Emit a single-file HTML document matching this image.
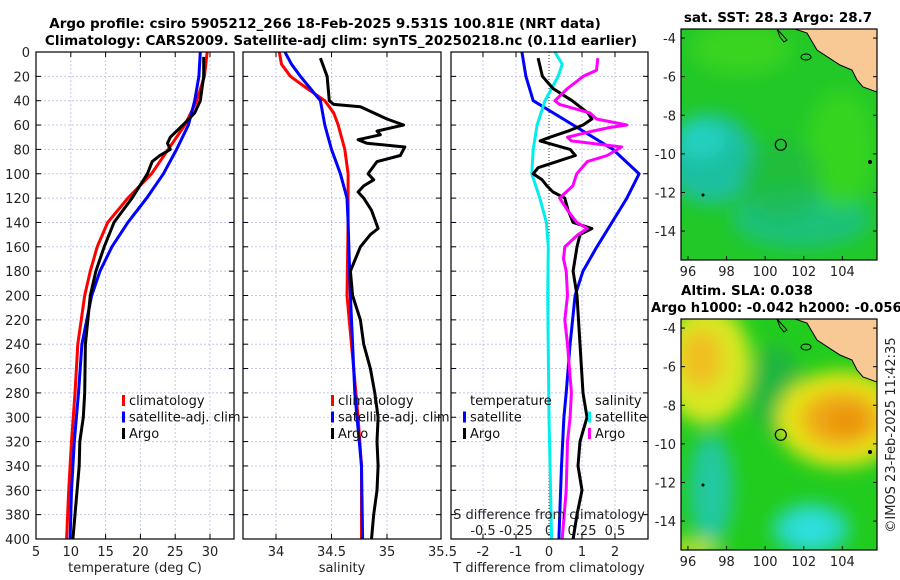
<!DOCTYPE html>
<html><head><meta charset="utf-8"><style>
body{margin:0;background:#fff;}
svg{display:block;font-family:"DejaVu Sans","Liberation Sans",sans-serif;}
</style></head><body>
<svg id="fig" width="900" height="580" viewBox="0 0 900 580" xmlns="http://www.w3.org/2000/svg">
<defs>
<filter id="blur6" x="-50%" y="-50%" width="200%" height="200%"><feGaussianBlur stdDeviation="9"/></filter>
<clipPath id="clipm1"><rect x="681" y="29" width="196" height="231"/></clipPath>
<clipPath id="clipm2"><rect x="681" y="319" width="196" height="231"/></clipPath>
<clipPath id="clipp1"><rect x="36" y="52" width="198" height="487"/></clipPath>
<clipPath id="clipp2"><rect x="243" y="52" width="198" height="487"/></clipPath>
<clipPath id="clipp3"><rect x="451" y="52" width="197" height="487"/></clipPath>
</defs>
<g id="root"></g>
</svg>
<script>
// ---- data ----
const tempDepth = [0,20,40,60,80,100,120,140,160,180,200,240,280,320,360,400];
const tempClim  = [29.6,29.2,28.1,26.4,24.0,21.6,18.2,15.3,13.8,12.8,12.0,11.0,10.6,10.1,9.7,9.4];
const tempSat   = [28.6,28.4,27.8,26.9,25.2,23.3,20.9,18.2,15.9,14.2,13.0,11.6,11.1,10.5,10.1,9.9];
const argoTDepth= [4,20,40,50,60,70,75,80,85,90,100,110,120,140,160,180,200,240,280,300,320,340,360,380,400];
const argoTemp  = [29.1,29.1,28.6,27.8,26.1,24.3,23.9,24.3,22.8,21.7,21.0,19.9,18.8,16.2,14.8,13.6,12.8,12.1,12.0,11.8,11.3,11.2,10.9,10.6,10.3];
const salDepth  = [0,10,20,30,40,50,60,80,100,120,140,200,280,300,340,400];
const salClim   = [34.03,34.05,34.13,34.28,34.44,34.52,34.56,34.62,34.65,34.65,34.65,34.64,34.72,34.74,34.77,34.77];
const salSat    = [34.08,34.14,34.22,34.31,34.40,34.42,34.44,34.50,34.58,34.64,34.65,34.67,34.71,34.73,34.77,34.78];
const argoSDepth= [5,20,40,43,45,50,55,60,65,68,72,75,78,85,90,100,105,110,115,120,130,140,145,150,160,180,200,220,240,260,280,300,320,340,360,380,400];
const argoSal   = [34.40,34.46,34.48,34.52,34.76,34.88,35.00,35.15,34.91,34.94,34.74,34.82,35.16,35.12,34.91,34.83,34.88,34.79,34.74,34.79,34.86,34.90,34.92,34.85,34.76,34.67,34.69,34.76,34.79,34.85,34.89,34.92,34.91,34.92,34.91,34.88,34.86];
const dDepth    = [0,20,40,60,80,100,120,140,160,180,200,240,280,300,340,400];
const dTsat     = [-0.82,-0.70,-0.48,0.73,1.94,2.73,2.36,1.91,1.45,1.03,0.79,0.64,0.52,0.45,0.38,0.30];
const dSsatDepth= [0,10,20,30,40,60,80,100,120,140,160,200,300,400];
const dSsat     = [0.045,0.10,0.07,0.02,-0.03,-0.09,-0.12,-0.13,-0.07,-0.02,-0.005,-0.01,0.0,0.02];
const dTargoDepth=[5,20,30,40,50,55,60,65,70,73,77,80,85,90,95,100,105,110,115,120,130,140,145,150,160,180,200,240,280,300,320,340,360,380,400];
const dTargo    = [-0.33,-0.20,0.12,0.70,1.18,1.30,1.03,0.58,0.03,-0.27,0.24,0.64,0.80,0.24,-0.33,-0.48,-0.21,-0.06,0.12,0.48,0.58,0.73,1.30,0.94,0.85,0.73,0.85,0.94,1.03,1.15,0.94,0.88,1.00,0.85,0.73];
const dSargoDepth=[5,15,20,30,40,43,50,55,60,62,65,70,73,78,85,90,100,110,120,130,140,145,150,160,170,180,200,220,240,280,300,320,360,400];
const dSargo    = [0.37,0.36,0.26,0.14,0.045,0.08,0.31,0.36,0.59,0.46,0.33,0.14,0.17,0.55,0.44,0.29,0.21,0.18,0.08,0.14,0.21,0.29,0.22,0.12,0.11,0.13,0.14,0.12,0.14,0.17,0.16,0.14,0.13,0.10];
const depthTicks = [0,20,40,60,80,100,120,140,160,180,200,220,240,260,280,300,320,340,360,380,400];
const tempTicks = [5,10,15,20,25,30];
const salTicks = [34,34.5,35,35.5];
const dTTicks = [-2,-1,0,1,2];
const dSTicks = [-0.5,-0.25,0,0.25,0.5];
const latTicks = [-4,-6,-8,-10,-12,-14];
const lonTicks = [96,98,100,102,104];

// ---- axes functions ----
const Y0=52, Y1=539;
const yD = d => Y0 + d*(Y1-Y0)/400;
const xT = t => 36 + (t-5)*6.96;
const xS = s => 276 + (s-34)*111;
const xDT = v => 549 + v*33;
const xDS = v => 549 + v*132;
const mx = lon => 681 + (lon-95.64)*19.3;
const my = (lat,top) => top + (-3.53-lat)*19.3;

const NS="http://www.w3.org/2000/svg";
const root=document.getElementById('root');
function el(tag, attrs, parent, txt){
  const e=document.createElementNS(NS,tag);
  for(const k in attrs) e.setAttribute(k,attrs[k]);
  if(txt!==undefined) e.textContent=txt;
  (parent||root).appendChild(e); return e;
}
function line(xs, depths, fx, color, name, clip){
  const p=xs.map((v,i)=>(i?'L':'M')+fx(v).toFixed(1)+','+yD(depths[i]).toFixed(1)).join(' ');
  const e=el('path',{d:p,fill:'none',stroke:color,'stroke-width':3,'stroke-linejoin':'round','clip-path':'url(#'+clip+')'});
  
  
}

const panels=[
 {x:36,w:198,clip:'clipp1',name:'temperature-panel',gx:tempTicks.map(xT)},
 {x:243,w:198,clip:'clipp2',name:'salinity-panel',gx:salTicks.map(xS)},
 {x:451,w:197,clip:'clipp3',name:'difference-panel',gx:dTTicks.filter(v=>v!==0).map(xDT)}
];
panels.forEach(P=>{
  const g=el('g',{});
  
  
  el('rect',{x:P.x,y:Y0,width:P.w,height:Y1-Y0,fill:'#fff'},g);
  depthTicks.forEach(d=>{
    el('line',{x1:P.x,x2:P.x+P.w,y1:yD(d),y2:yD(d),stroke:'#c4c8e8','stroke-width':1,'stroke-dasharray':'2,2'},g);
    el('line',{x1:P.x,x2:P.x+5,y1:yD(d),y2:yD(d),stroke:'#000'},g);
    el('line',{x1:P.x+P.w-5,x2:P.x+P.w,y1:yD(d),y2:yD(d),stroke:'#000'},g);
  });
  P.gx.forEach(x=>{
    if(x>P.x+1 && x<P.x+P.w-1){
      el('line',{x1:x,x2:x,y1:Y0,y2:Y1,stroke:'#c4c8e8','stroke-width':1,'stroke-dasharray':'2,2'},g);
      el('line',{x1:x,x2:x,y1:Y1-5,y2:Y1,stroke:'#000'},g);
      el('line',{x1:x,x2:x,y1:Y0,y2:Y0+5,stroke:'#000'},g);
    }
  });
});
el('line',{x1:xDT(0),x2:xDT(0),y1:Y0,y2:Y1,stroke:'#333','stroke-width':1,'stroke-dasharray':'1,2'});

depthTicks.forEach(d=>{
  const t=el('text',{x:30,y:yD(d)+5,'text-anchor':'end','font-size':13,fill:'#222'},root,String(d));
  
  
});
tempTicks.forEach(v=>{
  const t=el('text',{x:xT(v),y:556,'text-anchor':'middle','font-size':13,fill:'#222'},root,String(v));
  
  
});
salTicks.forEach(v=>{
  const t=el('text',{x:xS(v),y:556,'text-anchor':'middle','font-size':13,fill:'#222'},root,String(v));
  
  
});
dTTicks.forEach(v=>{
  const t=el('text',{x:xDT(v),y:556,'text-anchor':'middle','font-size':13,fill:'#222'},root,String(v));
  
  
});
dSTicks.forEach(v=>{
  const t=el('text',{x:xDS(v),y:535,'text-anchor':'middle','font-size':13,fill:'#222'},root,String(v));
  
  
});

line(tempClim,tempDepth,xT,'#ff0000','temperature-climatology-line','clipp1');
line(tempSat,tempDepth,xT,'#0000ff','temperature-satellite-line','clipp1');
line(argoTemp,argoTDepth,xT,'#000000','temperature-argo-line','clipp1');
line(salClim,salDepth,xS,'#ff0000','salinity-climatology-line','clipp2');
line(salSat,salDepth,xS,'#0000ff','salinity-satellite-line','clipp2');
line(argoSal,argoSDepth,xS,'#000000','salinity-argo-line','clipp2');
line(dTsat,dDepth,xDT,'#0000ff','t-diff-satellite-line','clipp3');
line(dSsat,dSsatDepth,xDS,'#00eeee','s-diff-satellite-line','clipp3');
line(dTargo,dTargoDepth,xDT,'#000000','t-diff-argo-line','clipp3');
line(dSargo,dSargoDepth,xDS,'#ff00ff','s-diff-argo-line','clipp3');

panels.forEach(P=>{ el('rect',{x:P.x,y:Y0,width:P.w,height:Y1-Y0,fill:'none',stroke:'#000','stroke-width':1.2}); });

function map(top, id, blobs){
  const g=el('g',{'clip-path':'url(#'+id+')'});
  
  
  el('rect',{x:681,y:top,width:196,height:231,fill:blobs.base},g);
  const bg=el('g',{filter:'url(#blur6)'},g);
  blobs.items.forEach(b=>el('ellipse',{cx:681+b[0],cy:top+b[1],rx:b[2],ry:b[3],fill:b[4],opacity:b[5]||1},bg));
  const land=[[114,0],[126,4],[136,21],[159,36],[171,41],[176,51],[182,58],[196,63],[196,0]];
  const lp=el('polygon',{points:land.map(p=>(681+p[0])+','+(top+p[1])).join(' '),fill:'#f9c995',stroke:'#000','stroke-width':1},g);
  
  
  el('path',{d:`M${681+96},${top} l3,8 l4,5 l3,-2 z`,fill:'none',stroke:'#000'},g);
  el('ellipse',{cx:681+125,cy:top+28,rx:5,ry:3,fill:'none',stroke:'#000'},g);
  el('circle',{cx:681+189,cy:top+133,r:2,fill:'#000'},g);
  el('circle',{cx:681+22,cy:top+166,r:1.5,fill:'#000'},g);
  const c=el('circle',{cx:mx(100.81),cy:my(-9.53,top),r:5.5,fill:'none',stroke:'#000','stroke-width':1.2},g);
  
  
  el('rect',{x:681,y:top,width:196,height:231,fill:'none',stroke:'#000','stroke-width':1.2});
  latTicks.forEach(l=>{
    const y=my(l,top);
    el('line',{x1:681,x2:685,y1:y,y2:y,stroke:'#000'});
    el('line',{x1:873,x2:877,y1:y,y2:y,stroke:'#000'});
    const t=el('text',{x:676,y:y+5,'text-anchor':'end','font-size':13,fill:'#222'},root,String(l));
    
    
  });
  lonTicks.forEach(l=>{
    const x=mx(l);
    el('line',{x1:x,x2:x,y1:top+231-4,y2:top+231,stroke:'#000'});
    const t=el('text',{x:x,y:top+231+16,'text-anchor':'middle','font-size':13,fill:'#222'},root,String(l));
    
    
  });
}
map(29,'clipm1',{base:'#22c828',items:[
  [30,130,45,45,'#1cc0a0'],[20,110,25,20,'#20d0c0'],[120,190,70,30,'#1cc08c',0.8],
  [60,20,50,25,'#44d81c',0.7],[160,120,35,60,'#3ad81a',0.7],[100,150,40,40,'#20b848',0.6]]});
map(319,'clipm2',{base:'#22cc1e',items:[
  [25,45,45,60,'#d8e820'],[20,40,22,30,'#f0c020'],[95,70,25,45,'#1eb048',0.8],
  [160,100,65,48,'#e4e418'],[160,100,40,28,'#f0a818'],[165,102,20,14,'#e89010',0.9],
  [30,170,22,55,'#20c8a0'],[130,210,38,25,'#28d8c8'],[130,210,18,14,'#30e0e0'],
  [10,230,30,10,'#c0e020']]});

function txt(s,attrs,name){const t=el('text',attrs,root,s);return t;}
txt('Argo profile: csiro 5905212_266 18-Feb-2025 9.531S 100.81E (NRT data)',{x:325,y:28,'text-anchor':'middle','font-size':13.5,'font-weight':'bold'},'title-line-1');
txt('Climatology: CARS2009. Satellite-adj clim: synTS_20250218.nc (0.11d earlier)',{x:341,y:45,'text-anchor':'middle','font-size':13.5,'font-weight':'bold'},'title-line-2');
txt('temperature (deg C)',{x:135,y:572,'text-anchor':'middle','font-size':13,fill:'#222'},'temperature-axis-title');
txt('salinity',{x:342,y:572,'text-anchor':'middle','font-size':13,fill:'#222'},'salinity-axis-title');
txt('T difference from climatology',{x:549,y:572,'text-anchor':'middle','font-size':13,fill:'#222'},'t-diff-axis-title');
txt('S difference from climatology',{x:549,y:519,'text-anchor':'middle','font-size':13,fill:'#222'},'s-diff-axis-title');
txt('sat. SST: 28.3 Argo: 28.7',{x:778,y:22,'text-anchor':'middle','font-size':13.5,'font-weight':'bold'},'sst-map-title');
txt('Altim. SLA: 0.038',{x:681,y:295,'font-size':13.5,'font-weight':'bold'},'sla-map-title-line-1');
txt('Argo h1000: -0.042 h2000: -0.056',{x:651,y:312,'font-size':13.2,'font-weight':'bold'},'sla-map-title-line-2');
txt('©IMOS 23-Feb-2025 11:42:35',{x:0,y:0,'text-anchor':'middle','font-size':13,fill:'#222',transform:'translate(895,435) rotate(-90)'},'timestamp');

function legend(x,y,items,name){
  items.forEach((it,i)=>{
    const yy=y+i*16.5;
    if(it[1]){const m=el('rect',{x:x,y:yy-10,width:3,height:11,fill:it[1]});}
    txt(it[0],{x:x+7,y:yy,'font-size':13,fill:'#111'},name+'-entry');
  });
}
legend(122,405,[['climatology','#ff0000'],['satellite-adj. clim','#0000ff'],['Argo','#000']],'temperature-legend');
legend(331,405,[['climatology','#ff0000'],['satellite-adj. clim','#0000ff'],['Argo','#000']],'salinity-legend');
legend(463,405,[['temperature',null],['satellite','#0000ff'],['Argo','#000']],'t-diff-legend');
legend(588,405,[['salinity',null],['satellite','#00eeee'],['Argo','#ff00ff']],'s-diff-legend');
</script>
</body></html>
